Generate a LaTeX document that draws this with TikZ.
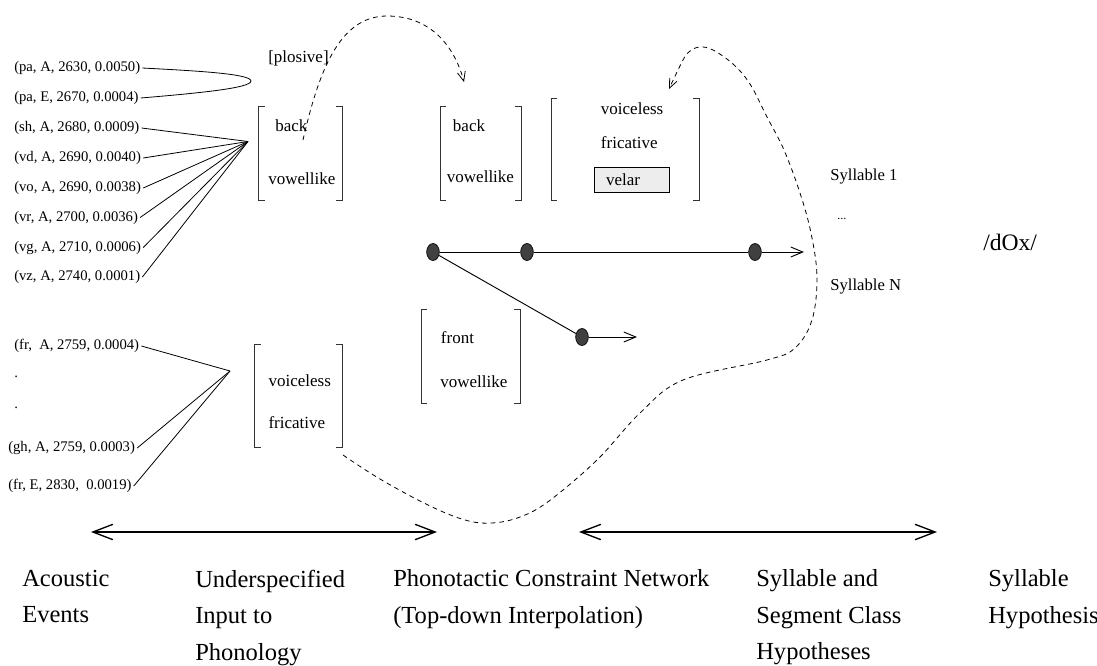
\documentclass[tikz,border=0pt]{standalone}
\usepackage{fontspec}
\setmainfont{Liberation Serif}
\usetikzlibrary{arrows.meta,fit,shapes.geometric}
\newcommand\brk[1]{%
 \draw[brkline] ([xshift=4.5pt]#1.north west) -- (#1.north west) -- (#1.south west) -- ([xshift=4.5pt]#1.south west);
 \draw[brkline] ([xshift=-4.5pt]#1.north east) -- (#1.north east) -- (#1.south east) -- ([xshift=-4.5pt]#1.south east);}
\tikzset{
 small/.style={font=\fontsize{11pt}{13pt}\selectfont, anchor=west, inner sep=1.5pt},
 lab/.style={font=\fontsize{12.75pt}{15pt}\selectfont, anchor=west, inner sep=0pt},
 syl/.style={font=\fontsize{12.5pt}{15pt}\selectfont, anchor=west, inner sep=0pt},
 big/.style={font=\fontsize{18.4pt}{27.4pt}\selectfont, anchor=north west, inner sep=0pt, align=left},
 box/.style={inner sep=0pt},
 brkline/.style={draw=black!80, line width=0.7pt},
 feed/.style={line width=0.6pt},
 dot/.style={ellipse, draw=black, line width=0.5pt, fill=black!75, minimum width=9.5pt, minimum height=12.75pt, inner sep=0pt},
 net/.style={line width=0.7pt},
 nethead/.style={-{Straight Barb[length=9pt,width=7.5pt]}},
 dsh/.style={line width=0.6pt, dash pattern=on 3.5pt off 3pt, -{Straight Barb[length=7pt,width=6pt]}},
 span/.style={line width=1pt, {Straight Barb[length=15pt,width=11.5pt]}-{Straight Barb[length=15pt,width=11.5pt]}},
 velarbox/.style={draw=black, line width=0.6pt, fill=black!7, minimum width=56.25pt, minimum height=18.75pt, text width=38pt, inner xsep=9pt, align=left, font=\fontsize{12.75pt}{15pt}\selectfont}
}
\begin{document}
\begin{tikzpicture}[x=0.75pt, y=-0.75pt]
\useasboundingbox (0,0) rectangle (1097,665);
% acoustic events
\node[small] (pa1) at (12,68) {(pa, A, 2630, 0.0050)};
\node[small] (pa2) at (12,98) {(pa, E, 2670, 0.0004)};
\node[small] (sh) at (12,128) {(sh, A, 2680, 0.0009)};
\node[small] (vd) at (12,158) {(vd, A, 2690, 0.0040)};
\node[small] (vo) at (12,188) {(vo, A, 2690, 0.0038)};
\node[small] (vr) at (12,217.5) {(vr, A, 2700, 0.0036)};
\node[small] (vg) at (12,247.5) {(vg, A, 2710, 0.0006)};
\node[small] (vz) at (12,277) {(vz, A, 2740, 0.0001)};
\node[small] (frA) at (12,346) {(fr,\ \ A, 2759, 0.0004)};
\node[small] (dt1) at (12,377) {.};
\node[small] (dt2) at (12,408) {.};
\node[small] (gh) at (6,448) {(gh, A, 2759, 0.0003)};
\node[small] (frE) at (6,486) {(fr, E, 2830,\ \ 0.0019)};
\coordinate (cv1) at (248,141.5);
\coordinate (cv2) at (230,371);
\coordinate (tip) at (251,81);
\draw[feed] (pa1.east) .. controls (200,71) and (251,74) .. (tip) .. controls (251,88) and (200,93) .. (pa2.east);
\foreach \n in {sh,vd,vo,vr,vg,vz} \draw[feed] (\n.east) -- (cv1);
\foreach \n in {frA,gh,frE} \draw[feed] (\n.east) -- (cv2);
% bracket boxes
\node[box, fit={(259,107) (342,200)}] (bA) {};
\node[box, fit={(440.7,107) (520.7,200)}] (bB) {};
\node[box, fit={(551.7,99) (699,200)}] (bC) {};
\node[box, fit={(255,345) (341.7,446.7)}] (bD) {};
\node[box, fit={(421.7,310) (520,403.3)}] (bE) {};
\brk{bA}\brk{bB}\brk{bC}\brk{bD}\brk{bE}
\node[lab] (aback) at (275,126) {back};
\node[lab] (avow) at (268,179) {vowellike};
\node[lab] (plos) at (268,58) {[plosive]};
\node[lab] (bback) at (452.7,126) {back};
\node[lab] (bvow) at (446.7,177) {vowellike};
\node[lab] (cvl) at (600.7,109) {voiceless};
\node[lab] (cfr) at (600.7,143) {fricative};
\node[velarbox] (velar) at (631.5,179.5) {velar};
\node[lab] (efront) at (440.7,338) {front};
\node[lab] (evow) at (440,381.7) {vowellike};
\node[lab] (dvl) at (268.3,381) {voiceless};
\node[lab] (dfr) at (268.3,423) {fricative};
% network
\node[dot] (d1) at (433,252) {};
\node[dot] (d2) at (527,252) {};
\node[dot] (d3) at (755,252) {};
\node[dot] (d4) at (582,337) {};
\coordinate (e1) at (804,252);
\coordinate (e2) at (637,337);
\draw[net] (d1) -- (d2);
\draw[net] (d2) -- (d3);
\draw[net] (d1) -- (d4);
\draw[net,nethead] (d3) -- (e1);
\draw[net,nethead] (d4) -- (e2);
% syllables
\node[syl] (s1) at (830,177) {Syllable 1};
\node[font=\fontsize{9pt}{11pt}\selectfont, anchor=west, inner sep=0pt] (sdots) at (837,219) {...};
\node[syl] (sN) at (830,287) {Syllable N};
\node[font=\fontsize{17.7pt}{20pt}\selectfont, anchor=west, inner sep=0pt] (dox) at (983,242) {/dOx/};
% dashed feedback
\coordinate (p0) at (303,140);
\coordinate (p1) at (464,82);
\draw[dsh] (p0) .. controls (318,75) and (338,16) .. (387,16) .. controls (432,16) and (455,48) .. (p1);
\coordinate (q0) at (343,455);
\coordinate (q1) at (669,89);
\draw[dsh] plot[smooth, tension=0.6] coordinates {(q0) (380,479) (428,505) (465,520) (492,523) (520,517) (549,501) (597,460) (640,413) (683,380) (767,360) (795,348) (812,320) (817,277) (811,233) (800,193) (784,150) (767,117) (750,84) (733,64) (713,50) (700,47) (690,51) (683,60) (q1)};
% spans
\coordinate (a1) at (91,532);
\coordinate (a2) at (437,532);
\coordinate (a3) at (579,532);
\coordinate (a4) at (937,532);
\draw[span] (a1) -- (a2);
\draw[span] (a3) -- (a4);
% bottom labels
\node[big] (l1) at (22,569.5) {Acoustic\\Events};
\node[big] (l2) at (195,569.5) {Underspecified\\Input to\\Phonology};
\node[big] (l3) at (393,569.5) {Phonotactic Constraint Network\\(Top-down Interpolation)};
\node[big] (l4) at (756,569.5) {Syllable and\\Segment Class\\Hypotheses};
\node[big] (l5) at (988,569.5) {Syllable\\Hypothesis};
\end{tikzpicture}
\end{document}
